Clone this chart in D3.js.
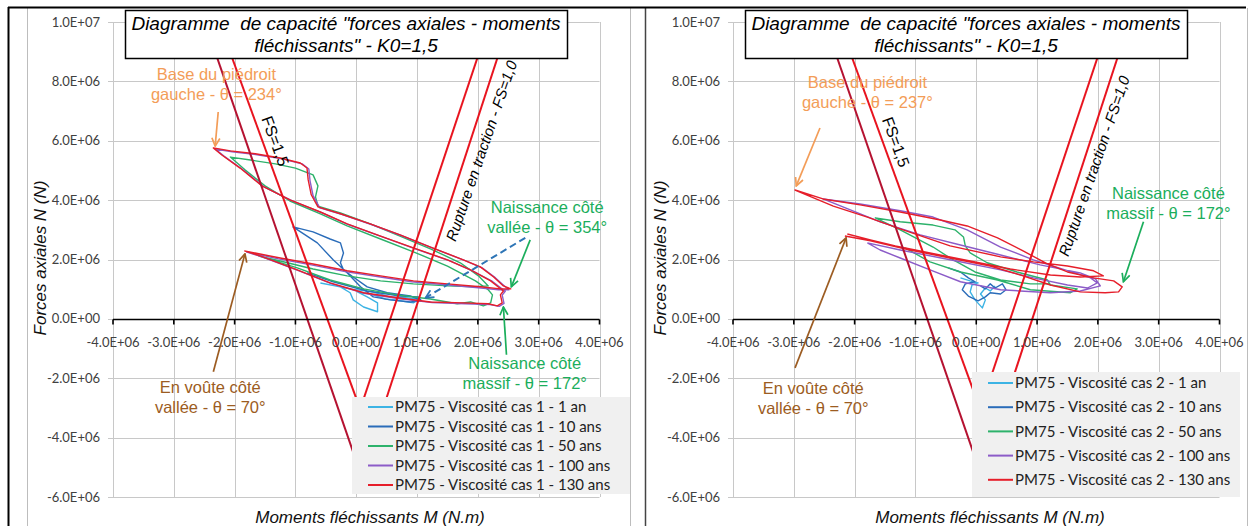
<!DOCTYPE html>
<html><head><meta charset="utf-8">
<script src="https://cdn.jsdelivr.net/npm/d3@7"></script>
<style>body{margin:0;background:#fff}svg{display:block}</style>
</head><body>
<script>
// ---------- DATA (M and N in units of 1E+06) ----------
const xTicks = [-4,-3,-2,-1,0,1,2,3,4];
const xTickLabels = ["-4.0E+06","-3.0E+06","-2.0E+06","-1.0E+06","0.0E+00","1.0E+06","2.0E+06","3.0E+06","4.0E+06"];
const yTicks = [-6,-4,-2,0,2,4,6,8,10];
const yTickLabels = ["-6.0E+06","-4.0E+06","-2.0E+06","0.0E+00","2.0E+06","4.0E+06","6.0E+06","8.0E+06","1.0E+07"];

const names1 = ["PM75 - Viscosité cas 1 - 1 an","PM75 - Viscosité cas 1 - 10 ans","PM75 - Viscosité cas 1 - 50 ans","PM75 - Viscosité cas 1 - 100 ans","PM75 - Viscosité cas 1 - 130 ans"];
const names2 = ["PM75 - Viscosité cas 2 - 1 an","PM75 - Viscosité cas 2 - 10 ans","PM75 - Viscosité cas 2 - 50 ans","PM75 - Viscosité cas 2 - 100 ans","PM75 - Viscosité cas 2 - 130 ans"];
const seriesColors = ["#3cb3e4","#2a6cb9","#2db26b","#8c5cc8","#e61e2a"];

// capacity lines (M, N)
const capFS15a = [[-2.49,10],[0.036,-5]];
const capFS15b = [[-2.256,10],[0.413,-5]];
const capTracA = [[2.189,10],[-0.026,-3.6]];
const capTracB = [[2.514,10],[0.349,-3.6]];

// ----- cas 1 -----
const c1_1an = [[-0.59,1.21],[-0.26,1.08],[-0.10,0.88],[-0.05,0.64],[0.12,0.40],[0.35,0.24],[0.35,0.54],[0.18,0.74],[0.02,0.91],[0.23,0.84],[0.48,0.67],[0.72,0.61],[0.94,0.54],[1.02,0.67],[0.81,0.71],[0.56,0.74],[0.26,0.91],[-0.10,1.01],[-0.35,1.11]];
const c1_10ans = [[-0.81,1.55],[-0.38,1.25],[0.18,0.94],[0.72,0.77],[1.02,0.74],[1.07,0.61],[0.89,0.57],[0.56,0.64],[0.28,0.74],[0.07,1.08],[-0.15,1.55],[-0.38,1.99],[-0.64,2.56],[-1.04,3.10],[-0.71,2.93],[-0.43,2.69],[-0.26,2.56],[-0.21,2.22],[-0.26,1.89],[-0.21,1.65],[-0.05,1.41],[0.18,1.08],[0.51,0.88],[0.89,0.77],[1.05,0.64]];
const c1_50ans = [[-1.61,2.12],[-0.97,1.72],[-0.43,1.31],[0.12,1.01],[0.67,0.81],[1.22,0.67],[1.66,0.51],[1.88,0.57],[2.09,0.44],[2.21,0.54],[2.24,0.81],[2.17,0.98],[1.96,1.28],[1.50,1.78],[0.94,2.26],[0.40,2.69],[-0.15,3.13],[-0.59,3.54],[-1.09,3.97],[-1.50,4.48],[-1.83,5.02],[-2.07,5.45],[-1.74,5.35],[-1.33,5.22],[-1.00,5.08],[-0.71,4.85],[-0.63,4.48],[-0.67,4.11],[-0.63,3.80],[-0.26,3.57],[0.23,3.20],[0.72,2.79],[1.22,2.36],[1.71,1.89],[2.01,1.45],[2.17,1.11],[1.96,1.08],[1.50,1.11],[0.94,1.18],[0.40,1.28],[-0.15,1.45],[-0.71,1.68],[-1.25,1.95],[-1.61,2.12]];
const c1_100ans = [[-1.81,2.26],[-1.55,2.09],[-0.94,1.62],[-0.40,1.18],[0.15,0.85],[0.71,0.68],[1.25,0.55],[1.79,0.51],[2.20,0.48],[2.35,0.42],[2.43,0.52],[2.40,0.80],[2.45,0.93],[2.24,1.26],[1.91,1.62],[1.53,1.96],[0.97,2.36],[0.43,2.76],[-0.12,3.17],[-0.56,3.57],[-1.06,3.98],[-1.52,4.45],[-1.88,5.05],[-2.18,5.49],[-2.32,5.72],[-2.04,5.63],[-1.63,5.53],[-1.22,5.39],[-0.89,5.22],[-0.78,5.05],[-0.76,4.65],[-0.71,4.15],[-0.60,3.74],[-0.23,3.51],[0.26,3.17],[0.75,2.80],[1.25,2.39],[1.79,1.96],[2.07,1.72],[2.29,1.38],[2.45,1.08],[2.51,0.98],[2.34,0.98],[2.01,1.05],[1.47,1.15],[0.91,1.25],[0.37,1.42],[-0.18,1.59],[-0.74,1.82],[-1.28,2.02],[-1.81,2.26]];
const c1_130ans = [[-1.84,2.29],[-1.58,2.12],[-0.97,1.65],[-0.43,1.21],[0.12,0.88],[0.68,0.71],[1.22,0.57],[1.76,0.54],[2.17,0.51],[2.32,0.44],[2.40,0.54],[2.37,0.81],[2.42,0.94],[2.21,1.28],[1.88,1.65],[1.50,1.99],[0.94,2.39],[0.40,2.79],[-0.15,3.20],[-0.59,3.60],[-1.09,4.01],[-1.55,4.48],[-1.91,5.08],[-2.21,5.52],[-2.35,5.76],[-2.07,5.66],[-1.66,5.56],[-1.25,5.42],[-0.92,5.25],[-0.81,5.08],[-0.79,4.68],[-0.74,4.18],[-0.63,3.77],[-0.26,3.54],[0.23,3.20],[0.72,2.83],[1.22,2.42],[1.76,1.99],[2.04,1.75],[2.26,1.41],[2.42,1.11],[2.54,1.01],[2.37,1.01],[2.04,1.08],[1.50,1.18],[0.94,1.28],[0.40,1.45],[-0.15,1.62],[-0.71,1.85],[-1.25,2.05],[-1.84,2.29]];

// ----- cas 2 -----
const c2_1an = [[-0.26,1.38],[-0.10,1.28],[0.03,1.21],[-0.07,1.14],[-0.10,0.91],[-0.02,0.64],[0.10,0.37],[0.15,0.64],[0.07,0.84],[0.15,1.04],[0.23,0.94],[0.31,1.11]];
const c2_10ans = [[-0.46,1.72],[-0.26,1.58],[-0.13,1.38],[-0.02,1.25],[-0.18,1.18],[-0.23,0.98],[-0.13,0.77],[0.03,0.61],[0.15,0.74],[0.23,0.88],[0.40,0.84],[0.49,0.98],[0.43,1.18],[0.31,1.04],[0.23,1.18],[0.15,1.01],[0.07,1.11]];
const c2_50ans = [[-1.17,2.39],[-0.76,1.92],[-0.26,1.58],[0.35,1.31],[0.89,0.98],[1.55,0.88],[1.66,1.01],[1.22,1.14],[1.17,1.31],[0.67,1.58],[0.18,1.89],[-0.10,2.22],[-0.18,2.46],[-0.21,2.76],[-0.35,3.00],[-0.71,3.16],[-1.25,3.27],[-1.66,3.40],[-1.25,3.00],[-0.71,2.42],[-0.43,2.05],[-0.02,1.58],[0.40,1.31],[0.89,1.18],[1.22,1.18]];
const c2_100ans = [[-1.79,2.56],[-1.25,2.32],[-0.43,1.99],[0.40,1.65],[0.94,1.38],[1.50,1.14],[1.83,1.04],[1.99,1.21],[1.88,1.38],[1.50,1.62],[0.94,1.99],[0.40,2.42],[-0.15,3.00],[-0.71,3.43],[-1.25,3.64],[-1.91,3.87],[-2.52,4.04],[-2.07,3.67],[-1.58,3.27],[-0.92,2.83],[-0.26,2.49],[0.40,2.15],[1.05,1.82],[1.71,1.55],[1.96,1.35],[2.04,1.11],[1.71,0.94],[1.22,0.88],[0.40,0.98],[-0.26,1.25],[-0.76,1.65],[-1.25,2.05],[-1.58,2.32],[-1.79,2.56]];
const c2_130ans = [[-2.16,2.79],[-1.74,2.63],[-1.09,2.32],[-0.43,2.05],[0.23,1.78],[0.72,1.48],[1.22,1.14],[1.71,0.91],[2.12,0.88],[2.34,0.91],[2.40,1.08],[2.26,1.28],[1.93,1.38],[1.50,1.58],[1.17,1.85],[0.77,2.29],[0.35,2.73],[-0.15,3.13],[-0.59,3.33],[-1.25,3.60],[-1.91,3.84],[-2.52,4.04],[-2.98,4.34],[-2.35,3.80],[-1.79,3.43],[-1.25,3.03],[-0.43,2.46],[0.40,2.09],[0.94,1.92],[1.50,1.78],[1.93,1.62],[2.09,1.45],[1.71,1.41],[1.22,1.48],[0.56,1.68],[-0.10,1.95],[-0.76,2.22],[-1.33,2.46],[-1.74,2.66],[-2.12,2.86]];

// ---------- LAYOUT ----------
const W = 1249, H = 526;
const annColors = {orange:"#f39d58", green:"#1bae5c", brown:"#9c5c22", blue:"#2e75b6"};
const panels = [
  { off:0, series:[c1_1an,c1_10ans,c1_50ans,c1_100ans,c1_130ans], names:names1,
    legend:{x:352,y:397,w:278,h:97,row0:407,dy:19.5},
    rupture:[2.06,5.66], fs15:[-1.33,5.99],
    texts:[
      {t:["Base du piédroit","gauche - θ = 234°"], c:"orange", at:[-2.30,8.25]},
      {t:["Naissance côté","vallée - θ = 354°"], c:"green", at:[3.14,3.77]},
      {t:["Naissance côté","massif - θ = 172°"], c:"green", at:[2.77,-1.48]},
      {t:["En voûte côté","vallée - θ = 70°"], c:"brown", at:[-2.40,-2.29]}
    ],
    arrows:[
      {f:[-2.27,6.97], to:[-2.32,5.82], c:"orange"},
      {f:[2.86,2.66], to:[2.55,1.08], c:"green"},
      {f:[2.78,2.73], to:[1.14,0.71], c:"blue", dash:true},
      {f:[2.47,-1.21], to:[2.42,0.40], c:"green"},
      {f:[-2.35,-1.78], to:[-1.83,2.19], c:"brown"}
    ]},
  { off:620, series:[c2_1an,c2_10ans,c2_50ans,c2_100ans,c2_130ans], names:names2,
    legend:{x:972,y:372,w:268,h:125,row0:383,dy:24.2},
    rupture:[1.94,5.15], fs15:[-1.32,5.96],
    texts:[
      {t:["Base du piédroit","gauche - θ = 237°"], c:"orange", at:[-1.79,7.98]},
      {t:["Naissance côté","massif - θ = 172°"], c:"green", at:[3.16,4.24]},
      {t:["En voûte côté","vallée - θ = 70°"], c:"brown", at:[-2.68,-2.32]}
    ],
    arrows:[
      {f:[-2.57,6.43], to:[-2.96,4.48], c:"orange"},
      {f:[2.75,3.27], to:[2.42,1.25], c:"green"},
      {f:[-2.98,-1.65], to:[-2.14,2.73], c:"brown"}
    ]}
];

const svg = d3.select("body").append("svg").attr("width",W).attr("height",H);
svg.append("rect").attr("width",W).attr("height",H).attr("fill","#fff");
const defs = svg.append("defs");
Object.entries(annColors).forEach(([k,c])=>{
  defs.append("marker").attr("id","ah-"+k).attr("viewBox","0 0 10 10")
    .attr("refX",9).attr("refY",5).attr("markerWidth",10).attr("markerHeight",10)
    .attr("markerUnits","userSpaceOnUse").attr("orient","auto")
    .append("path").attr("d","M1,1 L9,5 L1,9").attr("fill","none")
    .attr("stroke",c).attr("stroke-width",1.7);
});

// outer frames
svg.append("line").attr("x1",27.5).attr("x2",27.5).attr("y1",8).attr("y2",H).attr("stroke","#bdbdbd");
svg.append("line").attr("x1",630.5).attr("x2",630.5).attr("y1",8).attr("y2",H).attr("stroke","#bdbdbd");
svg.append("line").attr("x1",1247.5).attr("x2",1247.5).attr("y1",8).attr("y2",H).attr("stroke","#bdbdbd");
svg.append("line").attr("x1",645.5).attr("x2",645.5).attr("y1",7).attr("y2",H).attr("stroke","#444").attr("stroke-width",1.5);
svg.append("line").attr("x1",8).attr("x2",1246).attr("y1",7.5).attr("y2",7.5).attr("stroke","#000").attr("stroke-width",2);
svg.append("line").attr("x1",8.5).attr("x2",8.5).attr("y1",7).attr("y2",H).attr("stroke","#000").attr("stroke-width",2);

function drawPanel(p, pi){
  const g = svg.append("g");
  const x = d3.scaleLinear().domain([-4,4]).range([113+p.off, 599.5+p.off]);
  const y = d3.scaleLinear().domain([-6,10]).range([497,22]);
  const line = d3.line().x(d=>x(d[0])).y(d=>y(d[1]));

  defs.append("clipPath").attr("id","clip"+pi).append("rect")
    .attr("x",x(-4)).attr("y",y(10)).attr("width",x(4)-x(-4)).attr("height",y(-6)-y(10));

  // grid
  g.append("g").selectAll("line").data(xTicks).join("line")
    .attr("x1",d=>Math.round(x(d))+0.5).attr("x2",d=>Math.round(x(d))+0.5)
    .attr("y1",y(10)).attr("y2",y(-6)).attr("stroke","#c8c8c8").attr("stroke-width",1);
  g.append("g").selectAll("line").data(yTicks).join("line")
    .attr("x1",x(-4)-5).attr("x2",x(4))
    .attr("y1",d=>Math.round(y(d))+0.5).attr("y2",d=>Math.round(y(d))+0.5)
    .attr("stroke","#c8c8c8").attr("stroke-width",1);

  const plot = g.append("g").attr("clip-path","url(#clip"+pi+")");
  // series
  p.series.forEach((s,i)=>{
    plot.append("path").attr("d",line(s)).attr("fill","none")
      .attr("stroke",seriesColors[i]).attr("stroke-width",1.4).attr("stroke-linejoin","round");
  });
  // capacity lines
  [[capFS15a,"#b51231"],[capFS15b,"#e8141f"],[capTracA,"#e8141f"],[capTracB,"#e8141f"]].forEach(([c,col])=>{
    plot.append("path").attr("d",line(c)).attr("fill","none").attr("stroke",col).attr("stroke-width",2);
  });

  // x axis
  const y0 = Math.round(y(0))+0.5;
  g.append("line").attr("x1",x(-4)).attr("x2",x(4)).attr("y1",y0).attr("y2",y0)
    .attr("stroke","#000").attr("stroke-width",1.6);
  g.append("g").selectAll("line").data(xTicks).join("line")
    .attr("x1",d=>x(d)).attr("x2",d=>x(d)).attr("y1",y0).attr("y2",y0+5)
    .attr("stroke","#000").attr("stroke-width",1.6);
  g.append("g").selectAll("text").data(xTicks).join("text")
    .attr("x",d=>x(d)).attr("y",y0+27).attr("text-anchor","middle")
    .attr("font-family","Lato, 'Open Sans', sans-serif").attr("font-size",13).attr("fill","#404040")
    .text((d,i)=>xTickLabels[i]);
  g.append("g").selectAll("text").data(yTicks).join("text")
    .attr("x",x(-4)-13).attr("y",d=>y(d)+4.5).attr("text-anchor","end")
    .attr("font-family","Lato, 'Open Sans', sans-serif").attr("font-size",13).attr("fill","#404040")
    .text((d,i)=>yTickLabels[i]);

  // axis titles
  g.append("text").attr("transform",`translate(${p.off+46},258) rotate(-90)`)
    .attr("text-anchor","middle").attr("font-family","'Liberation Sans', Arial, sans-serif")
    .attr("font-style","italic").attr("font-size",17).attr("fill","#111").text("Forces axiales N (N)");
  g.append("text").attr("x",p.off+370).attr("y",523)
    .attr("text-anchor","middle").attr("font-family","'Liberation Sans', Arial, sans-serif")
    .attr("font-style","italic").attr("font-size",17).attr("fill","#111").text("Moments fléchissants M (N.m)");

  // line labels
  g.append("text").attr("transform",`translate(${x(p.fs15[0])},${y(p.fs15[1])}) rotate(70)`)
    .attr("text-anchor","middle").attr("dy","0.35em").attr("font-family","'Liberation Sans', Arial, sans-serif")
    .attr("font-size",16).attr("fill","#000").text("FS=1,5");
  g.append("text").attr("transform",`translate(${x(p.rupture[0])},${y(p.rupture[1])}) rotate(-71)`)
    .attr("text-anchor","middle").attr("dy","0.35em").attr("font-family","'Liberation Sans', Arial, sans-serif")
    .attr("font-style","italic").attr("font-size",15).attr("fill","#000").text("Rupture en traction - FS=1,0");

  // legend
  const L = p.legend;
  const lg = g.append("g");
  lg.append("rect").attr("x",L.x).attr("y",L.y).attr("width",L.w).attr("height",L.h).attr("fill","#f0f0f0");
  p.names.forEach((n,i)=>{
    const yy = L.row0 + i*L.dy;
    lg.append("line").attr("x1",L.x+16).attr("x2",L.x+41).attr("y1",yy).attr("y2",yy)
      .attr("stroke",seriesColors[i]).attr("stroke-width",2);
    lg.append("text").attr("x",L.x+43).attr("y",yy+5.2)
      .attr("font-family","Lato, 'Open Sans', sans-serif").attr("font-size",15).attr("fill","#222").text(n);
  });

  // title box
  g.append("rect").attr("x",p.off+125.5).attr("y",10.5).attr("width",442).attr("height",48)
    .attr("fill","#fff").attr("stroke","#000").attr("stroke-width",1.5);
  ["Diagramme  de capacité \"forces axiales - moments","fléchissants\" - K0=1,5"].forEach((t,i)=>{
    g.append("text").attr("x",p.off+346).attr("y",30+i*21.5).attr("text-anchor","middle")
      .attr("font-family","'Liberation Sans', Arial, sans-serif").attr("font-style","italic")
      .attr("font-size",19).attr("fill","#000").style("white-space","pre").text(t);
  });

  // annotations
  p.texts.forEach(a=>{
    a.t.forEach((t,i)=>{
      g.append("text").attr("x",x(a.at[0])).attr("y",y(a.at[1])+5.8+i*20.5)
        .attr("text-anchor","middle").attr("font-family","'Liberation Sans', Arial, sans-serif")
        .attr("font-size",16.5).attr("fill",annColors[a.c]).text(t);
    });
  });
  p.arrows.forEach(a=>{
    g.append("line").attr("x1",x(a.f[0])).attr("y1",y(a.f[1])).attr("x2",x(a.to[0])).attr("y2",y(a.to[1]))
      .attr("stroke",annColors[a.c]).attr("stroke-width",a.dash?2:1.7)
      .attr("stroke-dasharray",a.dash?"7,4":null)
      .attr("marker-end","url(#ah-"+a.c+")");
  });
}
panels.forEach(drawPanel);
</script>
</body></html>
